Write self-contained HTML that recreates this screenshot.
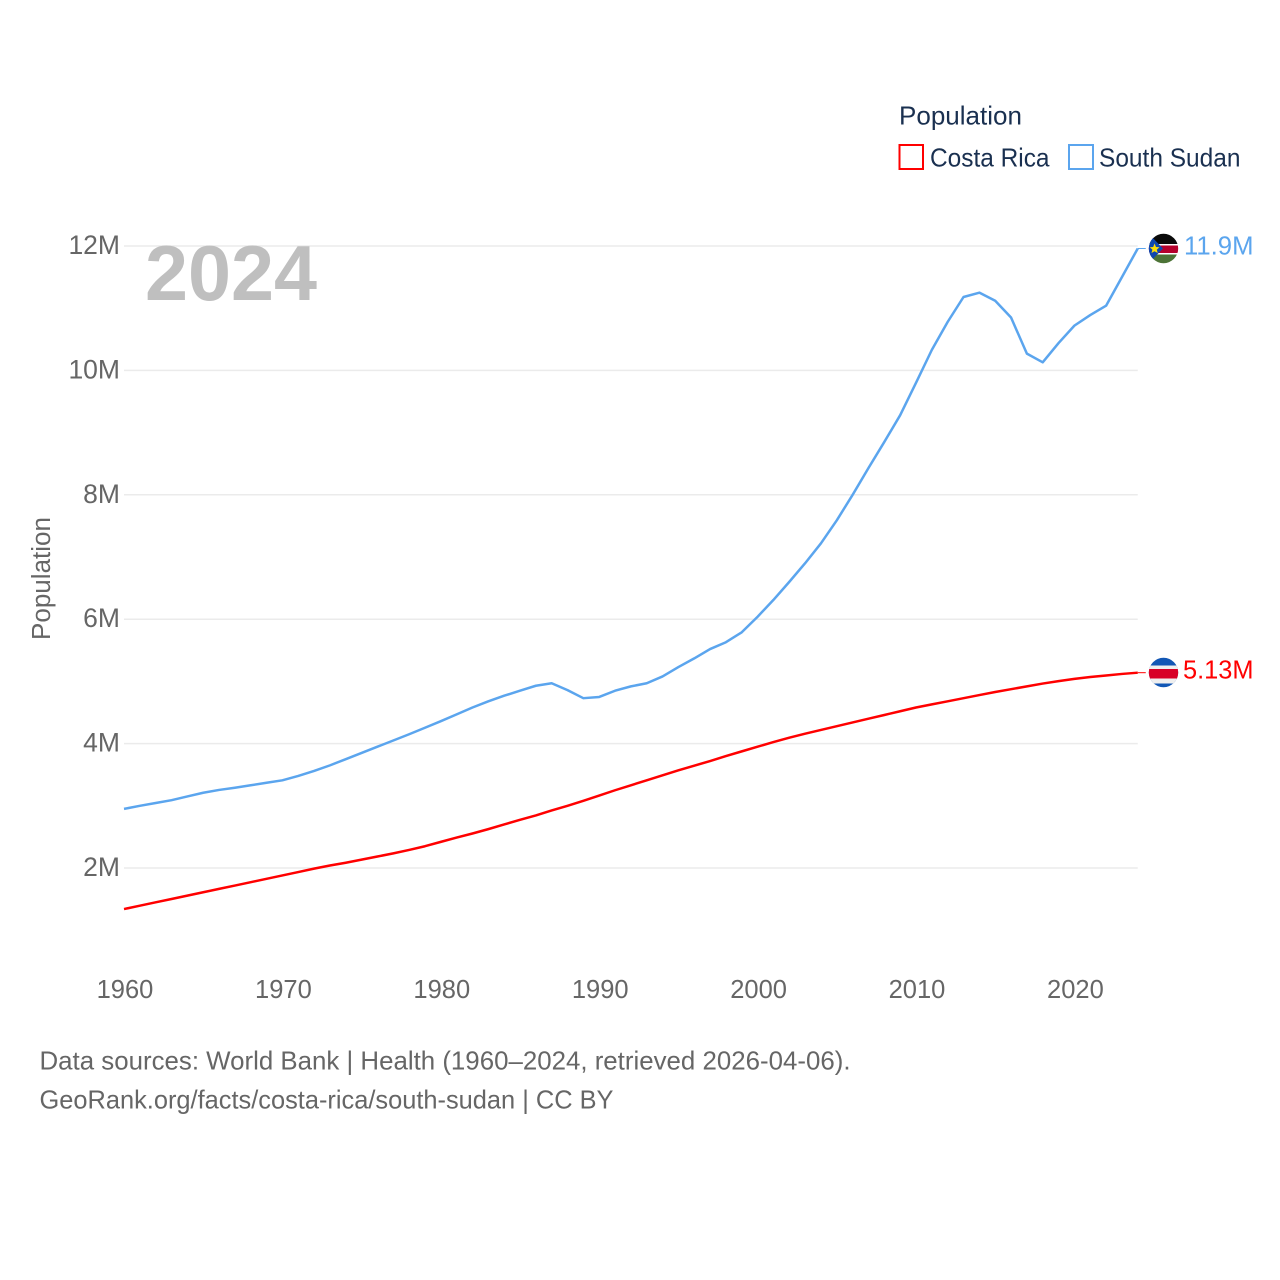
<!DOCTYPE html>
<html lang="en">
<head>
<meta charset="utf-8">
<title>Population: Costa Rica and South Sudan</title>
<style>
html,body{margin:0;padding:0;background:#fff;width:1280px;height:1280px;overflow:hidden}
svg{display:block}
text{font-family:"Liberation Sans","DejaVu Sans",sans-serif}
.tick{font-size:25.5px;fill:#666}
.ytick{font-size:26.5px;fill:#666}
.legend{font-size:26px;fill:#1a3050}
.foot{font-size:26px;fill:#666}
</style>
</head>
<body>
<svg id="chart" width="1280" height="1280" viewBox="0 0 1280 1280" xmlns="http://www.w3.org/2000/svg">
  <defs>
    <clipPath id="flag-clip-ss"><circle id="clip-ss" cx="1163.5" cy="248.5" r="14.7"/></clipPath>
    <clipPath id="flag-clip-cr"><circle id="clip-cr" cx="1163.5" cy="672.5" r="14.7"/></clipPath>
  </defs>

  <g id="grid"></g>
  <g id="yticks"></g>
  <g id="xticks"></g>

  <text x="145" y="300" font-size="78" font-weight="700" fill="#bfbfbf" textLength="172" lengthAdjust="spacingAndGlyphs">2024</text>

  <text class="tick" transform="translate(50,640) rotate(-90)" textLength="123" lengthAdjust="spacingAndGlyphs">Population</text>

  <g id="series"></g>

  <g>
    <text class="legend" x="899" y="124.5" textLength="123" lengthAdjust="spacingAndGlyphs">Population</text>
    <rect x="899.5" y="145" width="23.5" height="24" fill="#fff" stroke="#ff0000" stroke-width="2"/>
    <text class="legend" x="930" y="166.5" textLength="119.5" lengthAdjust="spacingAndGlyphs">Costa Rica</text>
    <rect x="1069" y="145" width="24" height="24" fill="#fff" stroke="#5ba5ee" stroke-width="2"/>
    <text class="legend" x="1099" y="166.5" textLength="141.5" lengthAdjust="spacingAndGlyphs">South Sudan</text>
  </g>

  <g clip-path="url(#flag-clip-ss)">
    <rect x="1148" y="233" width="31" height="11" fill="#0a0a0a"/>
    <rect x="1148" y="244" width="31" height="1.5" fill="#fff"/>
    <rect x="1148" y="245.5" width="31" height="7.5" fill="#b5002c"/>
    <rect x="1148" y="253" width="31" height="1.5" fill="#fff"/>
    <rect x="1148" y="254.5" width="31" height="10" fill="#4c7336"/>
    <polygon points="1148,233 1163,248.5 1148,264" fill="#0f47af"/>
    <polygon points="1154.5,243.5 1156,247 1159.5,247.3 1156.8,249.6 1157.7,253 1154.5,251.2 1151.5,253 1152.4,249.6 1149.7,247.3 1153.2,247" fill="#fcdd09"/>
  </g>
  <g clip-path="url(#flag-clip-cr)">
    <rect x="1148" y="657" width="31" height="31" fill="#1257b5"/>
    <rect x="1148" y="665.5" width="31" height="18" fill="#efefef"/>
    <rect x="1148" y="669" width="31" height="9.5" fill="#d80027"/>
  </g>

  <text x="1184" y="254.5" font-size="26" fill="#5ba5ee" textLength="69.5" lengthAdjust="spacingAndGlyphs">11.9M</text>
  <text x="1183" y="678.5" font-size="26" fill="#ff0000" textLength="70.5" lengthAdjust="spacingAndGlyphs">5.13M</text>

  <g>
    <text class="foot" x="39.5" y="1069.5" textLength="811" lengthAdjust="spacingAndGlyphs">Data sources: World Bank | Health (1960–2024, retrieved 2026-04-06).</text>
    <text class="foot" x="39.5" y="1108.5" textLength="574" lengthAdjust="spacingAndGlyphs">GeoRank.org/facts/costa-rica/south-sudan | CC BY</text>
  </g>
</svg>

<script>
const firstYear = 1960;
const xTickYears = [1960, 1970, 1980, 1990, 2000, 2010, 2020];
const yTickValues = [2, 4, 6, 8, 10, 12];
const costaRicaValues = [
  1.34, 1.394, 1.448, 1.502, 1.556, 1.61, 1.664, 1.718, 1.772, 1.826,
  1.88, 1.935, 1.99, 2.04, 2.085, 2.135, 2.185, 2.235, 2.29, 2.35,
  2.42, 2.49, 2.555, 2.625, 2.70, 2.775, 2.845, 2.925, 3.00, 3.08,
  3.165, 3.25, 3.33, 3.41, 3.49, 3.57, 3.645, 3.72, 3.80, 3.875,
  3.95, 4.025, 4.095, 4.16, 4.22, 4.28, 4.34, 4.40, 4.46, 4.52,
  4.58, 4.63, 4.68, 4.73, 4.78, 4.83, 4.875, 4.92, 4.965, 5.005,
  5.04, 5.07, 5.095, 5.12, 5.14
];
const southSudanValues = [
  2.95, 3.0, 3.045, 3.09, 3.15, 3.21, 3.255, 3.29, 3.33, 3.37,
  3.41, 3.48, 3.56, 3.65, 3.75, 3.85, 3.95, 4.05, 4.15, 4.255,
  4.36, 4.47, 4.58, 4.68, 4.77, 4.85, 4.93, 4.97, 4.86, 4.73,
  4.75, 4.85, 4.92, 4.97, 5.08, 5.23, 5.37, 5.52, 5.63, 5.79,
  6.04, 6.31, 6.60, 6.90, 7.22, 7.59, 8.0, 8.43, 8.85, 9.28,
  9.80, 10.33, 10.78, 11.18, 11.25, 11.12, 10.85, 10.27, 10.13, 10.44,
  10.72, 10.89, 11.04, 11.50, 11.96
];

const NS = 'http://www.w3.org/2000/svg';
const xScale = function (year) { return 124 + (year - 1960) * 15.84; };
const yScale = function (v) { return 868 - (v - 2) * 62.2; };
const gridLeft = xScale(1960);
const gridRight = xScale(2024);

const grid = document.getElementById('grid');
const yticks = document.getElementById('yticks');
yTickValues.forEach(function (v) {
  const line = document.createElementNS(NS, 'line');
  
  
  line.setAttribute('x1', gridLeft);
  line.setAttribute('x2', gridRight);
  line.setAttribute('y1', yScale(v));
  line.setAttribute('y2', yScale(v));
  line.setAttribute('stroke', '#ebebeb');
  line.setAttribute('stroke-width', '1.5');
  grid.appendChild(line);

  const label = document.createElementNS(NS, 'text');
  
  
  label.setAttribute('class', 'ytick');
  label.setAttribute('x', 120);
  label.setAttribute('y', yScale(v) + 8);
  label.setAttribute('text-anchor', 'end');
  label.textContent = v + 'M';
  yticks.appendChild(label);
});

const xticks = document.getElementById('xticks');
xTickYears.forEach(function (year) {
  const label = document.createElementNS(NS, 'text');
  
  
  label.setAttribute('class', 'tick');
  label.setAttribute('x', xScale(year) + 1);
  label.setAttribute('y', 998);
  label.setAttribute('text-anchor', 'middle');
  label.textContent = String(year);
  xticks.appendChild(label);
});

const seriesGroup = document.getElementById('series');

function pointsFor(values) {
  return values.map(function (v, i) {
    return xScale(firstYear + i).toFixed(2) + ',' + yScale(v).toFixed(2);
  }).join(' ');
}

const costaRicaLine = document.createElementNS(NS, 'polyline');


costaRicaLine.setAttribute('points', pointsFor(costaRicaValues));
costaRicaLine.setAttribute('fill', 'none');
costaRicaLine.setAttribute('stroke', '#ff0000');
costaRicaLine.setAttribute('stroke-width', '2.5');
costaRicaLine.setAttribute('stroke-linejoin', 'round');
seriesGroup.appendChild(costaRicaLine);

const southSudanLine = document.createElementNS(NS, 'polyline');


southSudanLine.setAttribute('points', pointsFor(southSudanValues));
southSudanLine.setAttribute('fill', 'none');
southSudanLine.setAttribute('stroke', '#5ba5ee');
southSudanLine.setAttribute('stroke-width', '2.5');
southSudanLine.setAttribute('stroke-linejoin', 'round');
seriesGroup.appendChild(southSudanLine);

const costaRicaEnd = costaRicaValues[costaRicaValues.length - 1];
const costaRicaConnector = document.createElementNS(NS, 'line');


costaRicaConnector.setAttribute('x1', gridRight);
costaRicaConnector.setAttribute('x2', gridRight + 8);
costaRicaConnector.setAttribute('y1', yScale(costaRicaEnd));
costaRicaConnector.setAttribute('y2', yScale(costaRicaEnd));
costaRicaConnector.setAttribute('stroke', '#ff0000');
costaRicaConnector.setAttribute('stroke-width', '1');
seriesGroup.appendChild(costaRicaConnector);

const southSudanEnd = southSudanValues[southSudanValues.length - 1];
const southSudanConnector = document.createElementNS(NS, 'line');


southSudanConnector.setAttribute('x1', gridRight);
southSudanConnector.setAttribute('x2', gridRight + 8);
southSudanConnector.setAttribute('y1', yScale(southSudanEnd));
southSudanConnector.setAttribute('y2', yScale(southSudanEnd));
southSudanConnector.setAttribute('stroke', '#5ba5ee');
southSudanConnector.setAttribute('stroke-width', '1');
seriesGroup.appendChild(southSudanConnector);
</script>
</body>
</html>
